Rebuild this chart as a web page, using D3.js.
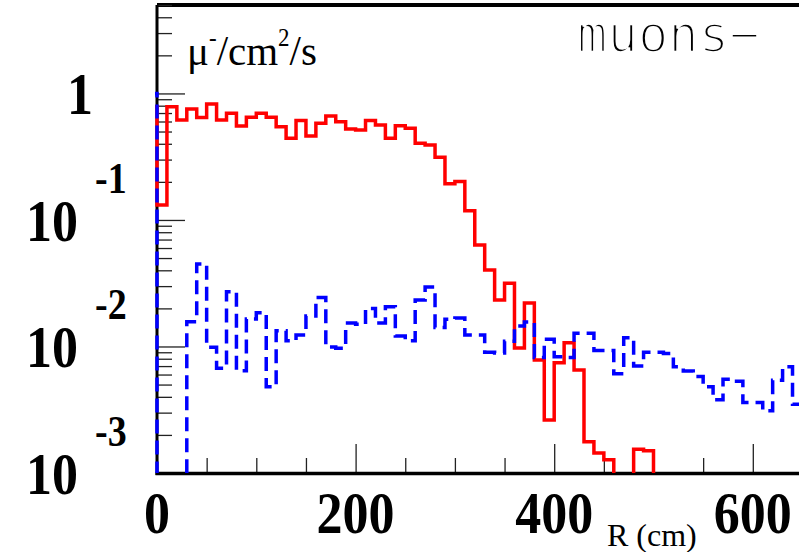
<!DOCTYPE html>
<html>
<head>
<meta charset="utf-8">
<script src="https://cdn.jsdelivr.net/npm/d3@7"></script>
<style>
  body { margin: 0; background: #fff; }
  svg { display: block; }
</style>
</head>
<body>
<script>
// Histogram bins: 10 cm wide, first bin starts at R = -10 cm
const binStart = -10;
const binWidth = 10;

// mu- flux per bin (solid red histogram)
const fluxRed = [
  0.786, 0.131, 0.786, 0.617, 0.754, 0.644, 0.826, 0.617, 0.698, 0.553,
  0.649, 0.698, 0.649, 0.546, 0.442, 0.610, 0.461, 0.581, 0.664, 0.598,
  0.524, 0.515, 0.610, 0.564, 0.442, 0.556, 0.531, 0.404, 0.392, 0.313,
  0.193, 0.201, 0.118, 0.0634, 0.0402, 0.0233, 0.0316, 0.00973, 0.0221, 0.00782,
  0.00262, 0.00745, 0.0107, 0.00652, 0.00177, 0.00144, 0.00127, 0, 0, 0.00154,
  0.00150, 0, 0, 0, 0, 0, 0, 0, 0, 0,
  0, 0, 0, 0, 0, 0
];

// mu- flux per bin (dashed blue histogram)
const fluxBlue = [
  1.0, 0, 0, 0, 0.0157, 0.0449, 0.00986, 0.00673, 0.0271, 0.00644,
  0.0165, 0.0185, 0.00481, 0.0133, 0.0111, 0.0123, 0.0174, 0.0244, 0.0099, 0.0097,
  0.0153, 0.0150, 0.0200, 0.0153, 0.0206, 0.0121, 0.0111, 0.0233, 0.0295, 0.0141,
  0.0164, 0.0168, 0.0123, 0.0123, 0.0090, 0.0089, 0.0110, 0.0145, 0.0156, 0.0082,
  0.0114, 0.0083, 0.0082, 0.0127, 0.0127, 0.0093, 0.0093, 0.0061, 0.0117, 0.0070,
  0.0090, 0.0090, 0.0088, 0.0069, 0.0064, 0.0058, 0.0048, 0.0038, 0.0055, 0.0053,
  0.0036, 0.0036, 0.0031, 0.0054, 0.0069, 0.0035
];

// Axis labels
const xTickLabels = [0, 200, 400, 600];
const yDecades = [
  { value: 1, base: "1", exp: "" },
  { value: 0.1, base: "10", exp: "-1" },
  { value: 0.01, base: "10", exp: "-2" },
  { value: 0.001, base: "10", exp: "-3" }
];

// Setup reference values
const w = 799;
const h = 552;
const frame = { left: 157, top: 5, bottom: 473 };
const xMax = 700;
const yMin = 0.001;
const yMax = 5;

const x = d3.scaleLinear().domain([0, xMax]).range([frame.left, frame.left + 0.993 * xMax]);
const y = d3.scaleLog().domain([yMin, yMax]).range([frame.bottom, frame.top]);

const svg = d3.select("body")
  .append("svg")
  .attr("width", w)
  .attr("height", h);

svg.append("defs")
  .append("clipPath")
  .attr("id", "plot-clip")
  .append("rect")
  .attr("x", frame.left - 2)
  .attr("y", frame.top)
  .attr("width", w)
  .attr("height", frame.bottom - frame.top);

// Frame lines
svg.append("line")
  .attr("x1", frame.left).attr("x2", w)
  .attr("y1", frame.top).attr("y2", frame.top)
  .attr("stroke", "#000").attr("stroke-width", 4);

// Y axis ticks (inside, pointing right)
const yAxisMinor = d3.axisRight(y)
  .tickValues(y.ticks().filter(t => !yDecades.some(d => Math.abs(d.value - t) < 1e-9)))
  .tickSize(15).tickSizeOuter(0).tickFormat("");
const yAxisMajor = d3.axisRight(y)
  .tickValues(yDecades.map(d => d.value))
  .tickSize(28).tickSizeOuter(0).tickFormat("");

[yAxisMinor, yAxisMajor].forEach(ax => {
  svg.append("g")
    .attr("transform", `translate(${frame.left},0)`)
    .call(ax)
    .call(g => g.select(".domain").remove())
    .selectAll("line").attr("stroke", "#222").attr("stroke-width", 1.3);
});

// X axis ticks (inside, pointing up)
const xAxisMinor = d3.axisTop(x)
  .tickValues(x.ticks(14).filter(t => !xTickLabels.includes(t)))
  .tickSize(15).tickSizeOuter(0).tickFormat("");
const xAxisMajor = d3.axisTop(x)
  .tickValues(xTickLabels)
  .tickSize(29).tickSizeOuter(0).tickFormat("");

[xAxisMinor, xAxisMajor].forEach(ax => {
  svg.append("g")
    .attr("transform", `translate(0,${frame.bottom})`)
    .call(ax)
    .call(g => g.select(".domain").remove())
    .selectAll("line").attr("stroke", "#222").attr("stroke-width", 1.3);
});

svg.append("line")
  .attr("x1", frame.left).attr("x2", frame.left)
  .attr("y1", frame.top).attr("y2", frame.bottom + 2)
  .attr("stroke", "#000").attr("stroke-width", 3);
svg.append("line")
  .attr("x1", frame.left - 1.5).attr("x2", w)
  .attr("y1", frame.bottom + 0.5).attr("y2", frame.bottom + 0.5)
  .attr("stroke", "#000").attr("stroke-width", 3.5);

// Histogram outlines (step lines, empty bins drop below the frame)
function binPoints(values) {
  const pts = values.map((v, i) => ({ r: binStart + i * binWidth, v: v }));
  pts.push({ r: binStart + values.length * binWidth, v: values[values.length - 1] });
  return pts;
}
const step = d3.line()
  .curve(d3.curveStepAfter)
  .x(d => x(d.r))
  .y(d => d.v > 0 ? y(d.v) : y(yMin / 10));

const plot = svg.append("g").attr("clip-path", "url(#plot-clip)");

plot.append("path")
  .datum(binPoints(fluxRed))
  .attr("d", step)
  .attr("fill", "none")
  .attr("stroke", "#ff0000")
  .attr("stroke-width", 3.5);

plot.append("path")
  .datum(binPoints(fluxBlue))
  .attr("d", step)
  .attr("fill", "none")
  .attr("stroke", "#0000ff")
  .attr("stroke-width", 3.5)
  .attr("stroke-dasharray", "14,7");

// Tick labels, bold serif, slightly stretched vertically
const labelFont = "'Liberation Serif', 'Times New Roman', serif";
const stretch = 1.15;

svg.selectAll(".x-label")
  .data(xTickLabels)
  .enter()
  .append("text")
  .attr("class", "x-label")
  .attr("transform", d => `translate(${x(d)},${frame.bottom + 60}) scale(1,${stretch})`)
  .attr("text-anchor", "middle")
  .style("font-family", labelFont)
  .style("font-weight", "bold")
  .style("font-size", "52px")
  .text(d => d);

const yLab = svg.selectAll(".y-label")
  .data(yDecades)
  .enter()
  .append("g")
  .attr("class", "y-label");

yLab.append("text")
  .attr("transform", d => d.exp === ""
    ? `translate(80,${y(d.value) + 21}) scale(1,${stretch})`
    : `translate(78,${y(d.value) + 21}) scale(1,${stretch})`)
  .attr("text-anchor", d => d.exp === "" ? "middle" : "end")
  .style("font-family", labelFont)
  .style("font-weight", "bold")
  .style("font-size", "52px")
  .text(d => d.base);

yLab.filter(d => d.exp !== "")
  .append("text")
  .attr("transform", d => `translate(95,${y(d.value) - 27}) scale(1,${stretch})`)
  .style("font-family", labelFont)
  .style("font-weight", "bold")
  .style("font-size", "38px")
  .text(d => d.exp);

// Units label inside the frame
const units = svg.append("text")
  .attr("transform", "translate(187,65) scale(1,1.05)")
  .style("font-family", labelFont)
  .style("font-size", "41px");
units.append("tspan").text("\u03bc");
units.append("tspan").attr("dy", -18).style("font-size", "23px").text("-");
units.append("tspan").attr("dy", 18).text("/cm");
units.append("tspan").attr("dy", -18).style("font-size", "23px").text("2");
units.append("tspan").attr("dy", 18).text("/s");

// Axis title
svg.append("text")
  .attr("x", 607)
  .attr("y", 546)
  .style("font-family", labelFont)
  .style("font-size", "32px")
  .text("R (cm)");

// Histogram name: thin monospace look (white stroke thins the glyphs)
svg.append("text")
  .attr("transform", "translate(577,52) scale(1.15,1.18)")
  .style("font-family", "'DejaVu Sans Mono', monospace")
  .style("font-size", "44px")
  .attr("fill", "#000")
  .attr("stroke", "#fff")
  .attr("stroke-width", 2.3)
  .text("muons\u2212");
</script>
</body>
</html>
